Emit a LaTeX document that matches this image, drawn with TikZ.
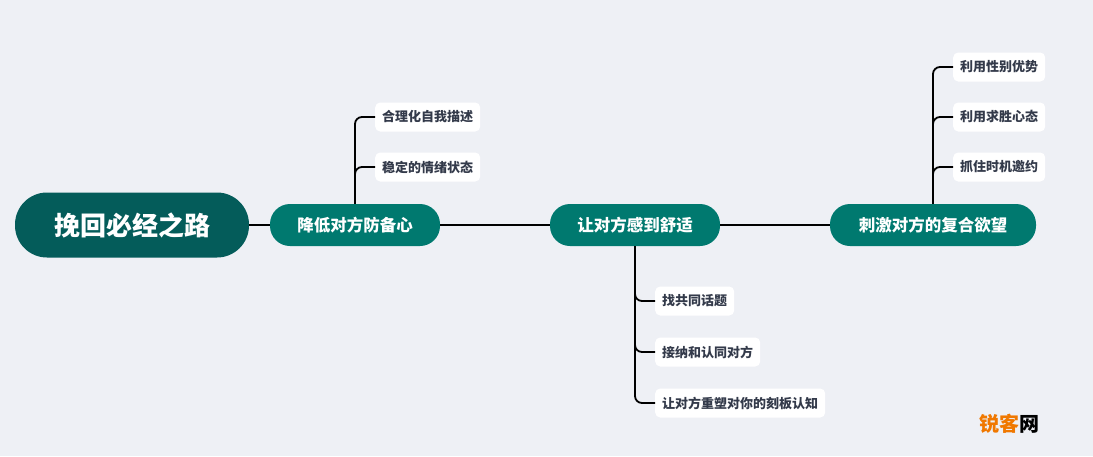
\documentclass[tikz,border=0pt]{standalone}
\usepackage{fontspec}
\setmainfont{Noto Sans CJK SC}
\begin{document}
\begin{tikzpicture}[x=1pt,y=-1pt,
  rootn/.style={fill=rootc,text=white,rounded corners=32pt,minimum width=234pt,minimum height=65pt,font=\fontsize{26}{30}\selectfont\bfseries},
  mainn/.style={fill=mainc,text=white,rounded corners=20pt,minimum height=42pt,font=\fontsize{16.5}{20}\selectfont\bfseries},
  leafn/.style={fill=white,text=leafc,rounded corners=5pt,minimum height=29pt,inner xsep=7pt,font=\fontsize{13}{16}\selectfont\bfseries,anchor=west},
  conn/.style={draw=black,line width=2.4pt},
  br/.style={draw=black,line width=1.8pt,rounded corners=7pt}]
\definecolor{bg}{HTML}{EEF0F5}
\definecolor{rootc}{HTML}{045C5A}
\definecolor{mainc}{HTML}{00796F}
\definecolor{leafc}{HTML}{333A4A}
\definecolor{wmo}{HTML}{F07800}
\fill[bg] (0,0) rectangle (1093,456);
\useasboundingbox (0,0) rectangle (1093,456);
\node[rootn] (r) at (132,225) {挽回必经之路};
\node[mainn,minimum width=170pt] (a) at (355,225) {降低对方防备心};
\node[mainn,minimum width=170pt] (b) at (635,225) {让对方感到舒适};
\node[mainn,minimum width=206pt] (c) at (933,225) {刺激对方的复合欲望};
\draw[conn] (r) -- (a); \draw[conn] (a) -- (b); \draw[conn] (b) -- (c);
\node[leafn] (a1) at (375,117) {合理化自我描述};
\node[leafn] (a2) at (375,167) {稳定的情绪状态};
\node[leafn] (c1) at (953,67) {利用性别优势};
\node[leafn] (c2) at (953,117) {利用求胜心态};
\node[leafn] (c3) at (953,167) {抓住时机邀约};
\node[leafn] (b1) at (655,301) {找共同话题};
\node[leafn] (b2) at (655,352) {接纳和认同对方};
\node[leafn] (b3) at (655,403) {让对方重塑对你的刻板认知};
\foreach \l in {a1,a2} \draw[br] (a.north) |- (\l.west);
\foreach \l in {c1,c2,c3} \draw[br] (c.north) |- (\l.west);
\foreach \l in {b1,b2,b3} \draw[br] (b.south) |- (\l.west);
\node[font=\fontsize{20}{24}\selectfont\bfseries] (wm) at (1009,424) {\textcolor{wmo}{锐客}\textcolor{black}{网}};
\end{tikzpicture}
\end{document}
